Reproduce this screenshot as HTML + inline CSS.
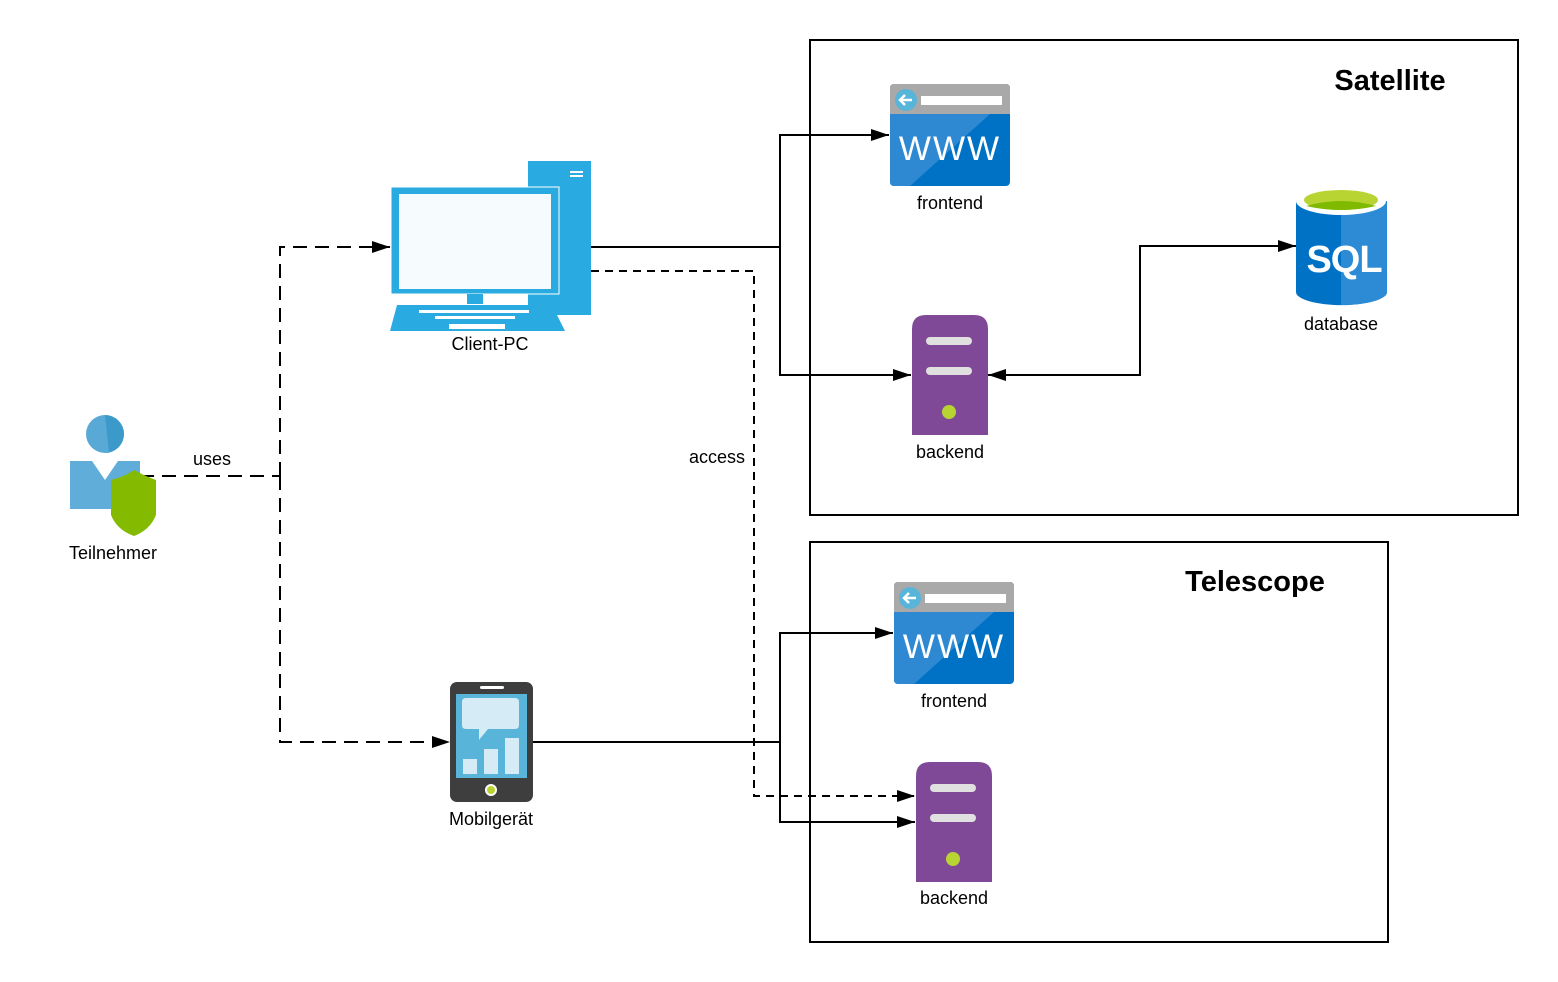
<!DOCTYPE html>
<html><head><meta charset="utf-8"><style>
body{margin:0;background:#fff;}
svg{display:block;font-family:"Liberation Sans",sans-serif;}
</style></head><body>
<svg width="1558" height="982" viewBox="0 0 1558 982" xmlns="http://www.w3.org/2000/svg">
<defs>
<marker id="a" markerWidth="18" markerHeight="12" refX="18" refY="6" orient="auto" markerUnits="userSpaceOnUse"><path d="M0,0 L18,6 L0,12 z" fill="#000"/></marker>
<marker id="b" markerWidth="18" markerHeight="12" refX="0" refY="6" orient="auto" markerUnits="userSpaceOnUse"><path d="M18,0 L0,6 L18,12 z" fill="#000"/></marker>
<g id="www">
<rect x="0" y="0" width="120" height="102" rx="4" fill="#0072c6"/>
<path d="M0,30 L120,30 L120,4 Q120,0 116,0 L4,0 Q0,0 0,4z" fill="#a9a9a9"/>
<path d="M0,30 L100,30 L20,102 L4,102 Q0,102 0,98z" fill="#3a8fd4" opacity="0.8"/>
<circle cx="16" cy="16" r="11" fill="#59b4d9"/>
<path d="M22,16 H10 M15,11 L10,16 L15,21" stroke="#fff" stroke-width="2.5" fill="none"/>
<rect x="31" y="12" width="81" height="9" fill="#fff"/>
<text x="60" y="76" font-size="34" fill="#fff" text-anchor="middle" letter-spacing="2">WWW</text>
</g>
<g id="srv">
<path d="M0,14 Q0,0 14,0 L62,0 Q76,0 76,14 L76,120 L0,120z" fill="#804998"/>
<rect x="14" y="22" width="46" height="8" rx="4" fill="#e0e0e0"/>
<rect x="14" y="52" width="46" height="8" rx="4" fill="#e0e0e0"/>
<circle cx="37" cy="97" r="7" fill="#b8d432"/>
</g>
</defs>

<rect x="810" y="40" width="708" height="475" fill="none" stroke="#000" stroke-width="2"/>
<rect x="810" y="542" width="578" height="400" fill="none" stroke="#000" stroke-width="2"/>
<text x="1390" y="90" font-size="29" font-weight="bold" text-anchor="middle">Satellite</text>
<text x="1255" y="591" font-size="29" font-weight="bold" text-anchor="middle">Telescope</text>

<g stroke="#000" stroke-width="2" fill="none">
<path d="M591,247 H780 V135 H889" marker-end="url(#a)"/>
<path d="M780,247 V375 H911" marker-end="url(#a)"/>
<path d="M533,742 H780 V633 H893" marker-end="url(#a)"/>
<path d="M780,742 V822 H915" marker-end="url(#a)"/>
<path d="M988,375 H1140 V246 H1296" marker-end="url(#a)" marker-start="url(#b)"/>
<path d="M591,271 H754 V796 H915" stroke-dasharray="8,6" marker-end="url(#a)"/>
<path d="M140,476 H280" stroke-dasharray="14,8"/>
<path d="M280,476 V247 H390" stroke-dasharray="14,8" marker-end="url(#a)"/>
<path d="M280,476 V742 H450" stroke-dasharray="14,8" marker-end="url(#a)"/>
</g>
<rect x="684" y="445" width="66" height="24" fill="#fff"/>
<text x="717" y="463" font-size="18" text-anchor="middle">access</text>
<text x="212" y="465" font-size="18" text-anchor="middle">uses</text>

<circle cx="105" cy="434" r="19" fill="#59a9d6"/>
<path d="M105,415 A19,19 0 0 1 105,453 L109,453 z" fill="#3c9acb"/>
<path d="M70,461 H92 L105,480 L118,461 H140 V509 H70z" fill="#5fadd8"/>
<path d="M111,480 Q126,476 134,470 Q145,476 156,480 V515 Q150,530 134,536 Q117,530 111,515z" fill="#84bb00"/>
<text x="113" y="559" font-size="18" text-anchor="middle">Teilnehmer</text>

<rect x="528" y="161" width="63" height="154" fill="#29abe2"/>
<rect x="570" y="171" width="13" height="2" fill="#fff"/><rect x="570" y="175" width="13" height="2" fill="#fff"/>
<rect x="391" y="187" width="168" height="107" fill="#29abe2" stroke="#fff" stroke-width="1"/>
<rect x="399" y="194" width="152" height="95" fill="#f6fbfd"/>
<rect x="467" y="294" width="16" height="10" fill="#29abe2"/>
<path d="M397,305 H552 L565,331 H390z" fill="#29abe2"/>
<g fill="#fff"><rect x="419" y="310" width="110" height="3"/><rect x="435" y="316" width="80" height="3"/><rect x="449" y="324" width="56" height="5"/></g>
<text x="490" y="350" font-size="18" text-anchor="middle">Client-PC</text>

<rect x="450" y="682" width="83" height="120" rx="7" fill="#3e3e3e"/>
<rect x="456" y="694" width="71" height="84" fill="#59b4d9"/>
<rect x="480" y="686" width="24" height="3" rx="1.5" fill="#fff"/>
<path d="M466,698 H515 Q519,698 519,702 V725 Q519,729 515,729 H488 L479,740 V729 H466 Q462,729 462,725 V702 Q462,698 466,698z" fill="#d5ebf5"/>
<rect x="463" y="759" width="14" height="15" fill="#d5ebf5"/>
<rect x="484" y="749" width="14" height="25" fill="#d5ebf5"/>
<rect x="505" y="738" width="14" height="36" fill="#d5ebf5"/>
<circle cx="491" cy="790" r="6" fill="#fff"/><circle cx="491" cy="790" r="4" fill="#b8d432"/>
<text x="491" y="825" font-size="18" text-anchor="middle">Mobilgerät</text>

<use href="#www" x="890" y="84"/>
<text x="950" y="209" font-size="18" text-anchor="middle">frontend</text>
<use href="#srv" x="912" y="315"/>
<text x="950" y="458" font-size="18" text-anchor="middle">backend</text>
<path d="M1296,201 V292 A45,13 0 0 0 1387,292 V201z" fill="#0072c6"/>
<path d="M1341,214 V305 A45,13 0 0 0 1387,292 V201z" fill="#2c8bd4"/>
<ellipse cx="1341" cy="201" rx="45" ry="14" fill="#fff"/>
<ellipse cx="1341" cy="200" rx="37" ry="10" fill="#b8d432"/>
<path d="M1306,206 Q1341,196 1376,206 Q1341,214 1306,206z" fill="#7fba00"/>
<text x="1344" y="272" font-size="38" font-weight="bold" fill="#fff" text-anchor="middle" letter-spacing="-1">SQL</text>
<text x="1341" y="330" font-size="18" text-anchor="middle">database</text>

<use href="#www" x="894" y="582"/>
<text x="954" y="707" font-size="18" text-anchor="middle">frontend</text>
<use href="#srv" x="916" y="762"/>
<text x="954" y="904" font-size="18" text-anchor="middle">backend</text>
</svg>
</body></html>
